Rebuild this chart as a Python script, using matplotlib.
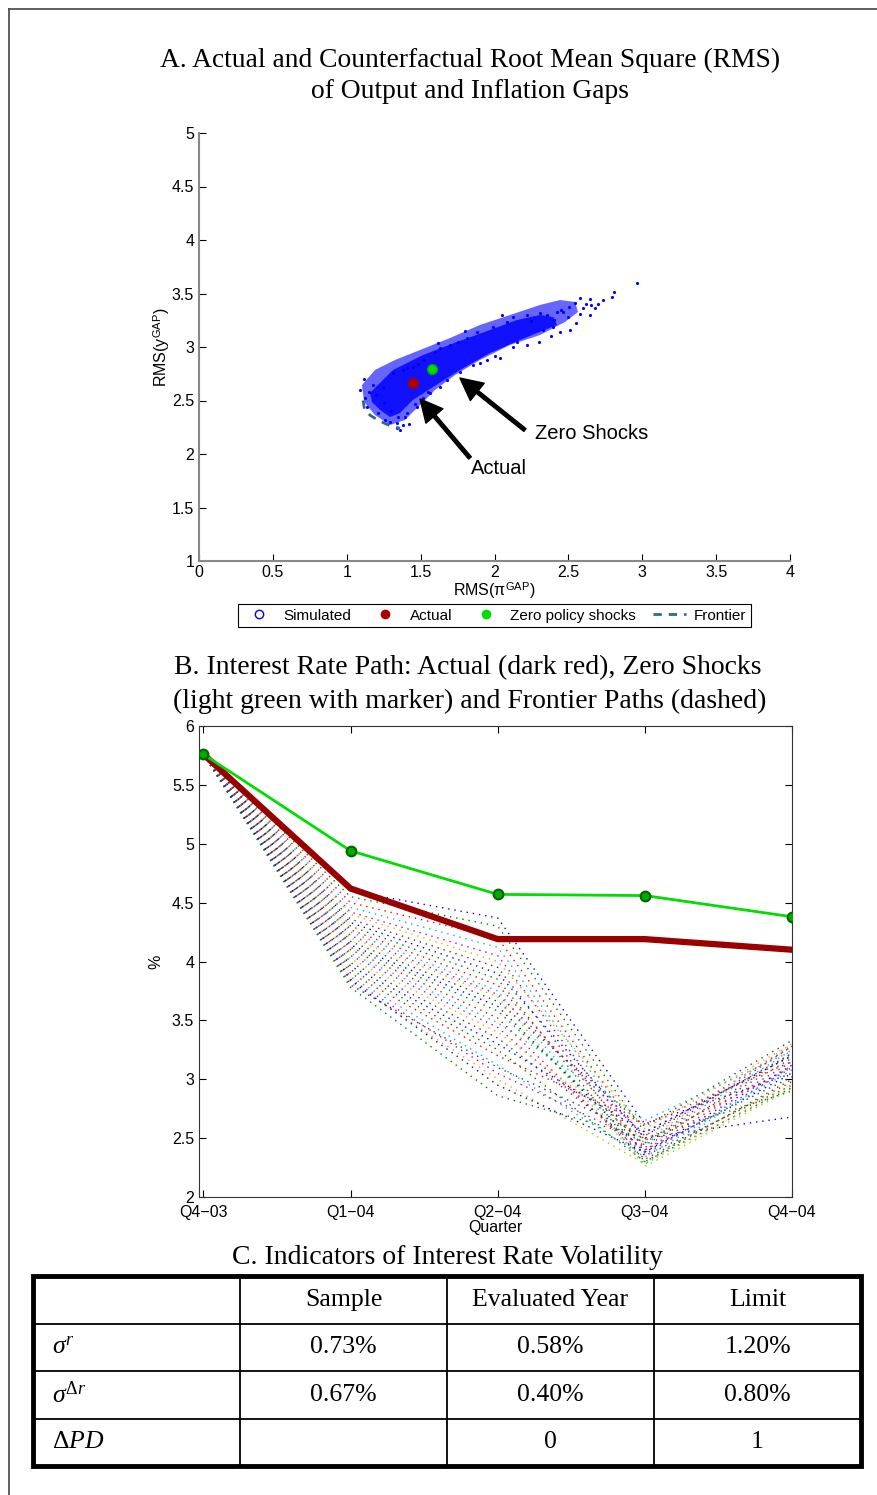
import matplotlib
matplotlib.use('Agg')
import matplotlib.pyplot as plt
from matplotlib.lines import Line2D
from matplotlib.patches import Rectangle
from matplotlib.ticker import FormatStrFormatter

plt.rcParams['font.family'] = ['Liberation Sans', 'DejaVu Sans']
plt.rcParams['mathtext.fontset'] = 'custom'
plt.rcParams['mathtext.rm'] = 'Liberation Serif'
plt.rcParams['mathtext.it'] = 'Liberation Serif:italic'
plt.rcParams['mathtext.sf'] = 'Liberation Sans'

# ---- panel A data ----
# outer (sparser) part of the simulated cloud
outer_x = [1.103, 1.191, 1.327, 1.496, 1.699, 1.902, 2.105, 2.308, 2.443, 2.545, 2.565,
           2.477, 2.308, 2.105, 1.902, 1.733, 1.597, 1.496, 1.394, 1.293, 1.191, 1.117]
outer_y = [2.645, 2.785, 2.879, 2.972, 3.084, 3.206, 3.299, 3.393, 3.439, 3.421, 3.327,
           3.234, 3.112, 3.019, 2.879, 2.738, 2.598, 2.458, 2.318, 2.271, 2.364, 2.486]
# dense core of the simulated cloud
core_x = [1.157, 1.313, 1.516, 1.746, 1.970, 2.152, 2.308, 2.396, 2.423, 2.220,
          1.970, 1.766, 1.584, 1.448, 1.360, 1.293, 1.225, 1.171]
core_y = [2.570, 2.785, 2.925, 3.047, 3.159, 3.252, 3.299, 3.280, 3.206, 3.093,
          2.944, 2.785, 2.626, 2.505, 2.383, 2.346, 2.411, 2.486]
# scattered simulated points
sim_x = [2.964, 2.809, 2.795, 2.734, 2.646, 2.653, 2.646, 2.545, 2.579, 2.504, 2.511, 2.443,
         2.464, 2.423, 1.124, 1.137, 1.211, 1.293, 1.340, 1.381, 1.394, 1.245, 1.313, 1.381,
         1.448, 1.178, 1.631, 1.699, 1.814, 1.882, 1.990, 2.085, 2.125, 2.220, 2.308, 2.355,
         2.396, 2.328, 2.220, 2.125, 2.037, 1.949, 1.855, 1.766, 1.678, 1.631, 1.563, 1.516,
         1.475, 1.408, 1.340, 1.20, 1.25, 1.30, 1.15, 1.52, 1.60, 1.75, 2.40, 2.55, 2.60,
         2.70, 2.45, 2.50, 2.30, 2.38, 1.90, 2.00, 1.46, 1.55, 1.35, 1.26, 1.41, 1.48, 2.15,
         2.25, 1.09, 1.12, 1.36, 1.42, 1.62, 1.80, 2.05, 2.62, 2.68, 2.58]
sim_y = [3.598, 3.514, 3.467, 3.439, 3.449, 3.393, 3.299, 3.411, 3.308, 3.374, 3.159, 3.140,
         3.327, 3.327, 2.523, 2.439, 2.383, 2.299, 2.243, 2.271, 2.346, 2.626, 2.757, 2.785,
         2.813, 2.645, 2.991, 3.019, 3.084, 3.140, 3.187, 3.234, 3.280, 3.299, 3.318, 3.299,
         3.187, 3.159, 3.019, 3.000, 2.897, 2.879, 2.832, 2.766, 2.692, 2.626, 2.570, 2.523,
         2.439, 2.383, 2.290, 2.55, 2.48, 2.40, 2.58, 2.88, 2.95, 3.05, 3.25, 3.22, 3.36,
         3.40, 3.35, 3.28, 3.05, 3.10, 2.85, 2.92, 2.47, 2.58, 2.35, 2.32, 2.80, 2.84, 3.05,
         3.24, 2.60, 2.70, 2.22, 2.28, 3.04, 3.15, 3.30, 3.40, 3.36, 3.46]
actual_x, actual_y = 1.45, 2.66
zero_x, zero_y = 1.58, 2.79
frontier_x = [1.11, 1.12, 1.16, 1.22, 1.30, 1.36]
frontier_y = [2.50, 2.42, 2.36, 2.31, 2.26, 2.24]

# ---- panel B data ----
quarters = ['Q4\u221203', 'Q1\u221204', 'Q2\u221204', 'Q3\u221204', 'Q4\u221204']
actual_path = [5.76, 4.62, 4.19, 4.19, 4.10]
zero_path = [5.76, 4.94, 4.57, 4.56, 4.38]
frontier_paths = [
    [5.76, 4.60, 4.37, 2.62, 3.05],
    [5.76, 4.55, 4.30, 2.55, 3.20],
    [5.76, 4.50, 4.20, 2.48, 3.10],
    [5.76, 4.46, 4.12, 2.45, 3.25],
    [5.76, 4.42, 4.05, 2.40, 3.15],
    [5.76, 4.40, 4.00, 2.58, 3.30],
    [5.76, 4.36, 3.95, 2.35, 2.95],
    [5.76, 4.33, 3.90, 2.50, 2.68],
    [5.76, 4.30, 3.85, 2.30, 3.00],
    [5.76, 4.27, 3.80, 2.42, 3.22],
    [5.76, 4.25, 3.75, 2.28, 3.12],
    [5.76, 4.22, 3.72, 2.52, 3.28],
    [5.76, 4.20, 3.70, 2.26, 2.92],
    [5.76, 4.17, 3.66, 2.60, 3.33],
    [5.76, 4.14, 3.62, 2.38, 3.05],
    [5.76, 4.12, 3.58, 2.44, 3.18],
    [5.76, 4.10, 3.52, 2.32, 2.98],
    [5.76, 4.07, 3.48, 2.65, 3.24],
    [5.76, 4.05, 3.44, 2.36, 3.10],
    [5.76, 4.02, 3.40, 2.48, 3.30],
    [5.76, 3.99, 3.35, 2.40, 3.02],
    [5.76, 3.96, 3.30, 2.55, 3.20],
    [5.76, 3.93, 3.25, 2.30, 2.93],
    [5.76, 3.90, 3.20, 2.62, 3.15],
    [5.76, 3.87, 3.12, 2.34, 3.08],
    [5.76, 3.85, 3.05, 2.46, 3.28],
    [5.76, 3.82, 3.00, 2.28, 2.95],
    [5.76, 3.80, 3.10, 2.52, 3.22],
    [5.76, 3.84, 2.95, 2.38, 3.12],
    [5.76, 3.78, 2.86, 2.50, 2.90],
]
matlab_colors = [(0, 0, 1), (0, 0.5, 0), (1, 0, 0), (0, 0.75, 0.75),
                 (0.75, 0, 0.75), (0.75, 0.75, 0), (0.25, 0.25, 0.25)]

# ---- table data ----
col_labels = ['', 'Sample', 'Evaluated Year', 'Limit']
row_labels = [r'$\sigma^r$', r'$\sigma^{\Delta r}$', r'$\Delta PD$']
cells = [['0.73%', '0.58%', '1.20%'],
         ['0.67%', '0.40%', '0.80%'],
         ['', '0', '1']]

W, H = 878, 1495
fig = plt.figure(figsize=(W / 100, H / 100), dpi=100)


def fx(px):
    return px / W


def fy(py):
    return 1 - py / H


# page frame
fig.add_artist(Line2D([fx(9), 1], [fy(9), fy(9)], color='#444444', lw=1.2))
fig.add_artist(Line2D([fx(9), fx(9)], [fy(9), 0], color='#444444', lw=1.2))

serif = ['Liberation Serif', 'DejaVu Serif']
fig.text(fx(470), fy(60), 'A. Actual and Counterfactual Root Mean Square (RMS)',
         ha='center', va='center', fontsize=19.8, family=serif)
fig.text(fx(470), fy(92), 'of Output and Inflation Gaps',
         ha='center', va='center', fontsize=19.8, family=serif)

# ---------- panel A ----------
axA = fig.add_axes([fx(199), fy(561), fx(790) - fx(199), fy(133) - fy(561)])
axA.fill(outer_x, outer_y, color=(0.2, 0.2, 1.0), alpha=0.75, lw=0, zorder=2)
axA.fill(core_x, core_y, color=(0.05, 0.05, 1.0), alpha=0.95, lw=0, zorder=2)
axA.plot(sim_x, sim_y, '.', color='blue', ms=2.5, zorder=2)
axA.plot(frontier_x, frontier_y, '--', color='#2e6a8c', lw=2, dashes=(3, 2.5), zorder=3)
axA.plot(actual_x, actual_y, 'o', color='#aa0000', ms=7, zorder=4)
axA.plot(zero_x, zero_y, 'o', color='#00dd00', mec='#00aa00', ms=7, zorder=4)

arrow = dict(facecolor='black', edgecolor='black', width=2.5, headwidth=16, headlength=16)
axA.annotate('', xy=(1.766, 2.710), xytext=(2.206, 2.224), arrowprops=arrow)
axA.annotate('', xy=(1.496, 2.514), xytext=(1.834, 1.963), arrowprops=arrow)
axA.text(2.274, 2.196, 'Zero Shocks', fontsize=14.5, va='center', ha='left')
axA.text(1.841, 1.869, 'Actual', fontsize=14.5, va='center', ha='left')

axA.set_xlim(0, 4)
axA.set_ylim(1, 5)
axA.set_xticks([i * 0.5 for i in range(9)])
axA.set_yticks([1 + i * 0.5 for i in range(9)])
axA.xaxis.set_major_formatter(FormatStrFormatter('%g'))
axA.yaxis.set_major_formatter(FormatStrFormatter('%g'))
axA.tick_params(direction='in', length=5, labelsize=11.5, width=0.8)
axA.tick_params(axis='x', pad=3)
axA.spines['top'].set_visible(False)
axA.spines['right'].set_visible(False)
axA.spines['left'].set_color('#888888')
axA.spines['bottom'].set_color('#888888')
axA.spines['left'].set_linewidth(1.5)
axA.spines['bottom'].set_linewidth(1.5)
axA.set_xlabel(r'RMS($\mathsf{\pi}^{\mathsf{GAP}}$)', fontsize=11.5, labelpad=0)
axA.set_ylabel(r'RMS(y$^{\mathsf{GAP}}$)', fontsize=11.5, labelpad=0)

handles = [Line2D([], [], ls='none', marker='o', mfc='white', mec='blue', ms=6),
           Line2D([], [], ls='none', marker='o', color='#aa0000', ms=6),
           Line2D([], [], ls='none', marker='o', color='#00dd00', ms=6),
           Line2D([], [], ls='--', color='#2e6a8c', lw=2, dashes=(3, 2.5))]
leg = axA.legend(handles, ['Simulated', 'Actual', 'Zero policy shocks', 'Frontier'],
                 loc='center', bbox_to_anchor=(0.5, -0.128), ncol=4, fontsize=11,
                 frameon=True, fancybox=False, edgecolor='black', framealpha=1,
                 handlelength=2.2, handletextpad=0.5, columnspacing=1.1, borderpad=0.3)
leg.get_frame().set_linewidth(0.8)

# ---------- panel B ----------
fig.text(fx(468), fy(668), 'B. Interest Rate Path: Actual (dark red), Zero Shocks',
         ha='center', va='center', fontsize=20, family=serif)
fig.text(fx(470), fy(701), '(light green with marker) and Frontier Paths (dashed)',
         ha='center', va='center', fontsize=20, family=serif)

axB = fig.add_axes([fx(199), fy(1197), fx(792) - fx(199), fy(726) - fy(1197)])
xq = list(range(1, len(quarters) + 1))
for i, path in enumerate(frontier_paths):
    axB.plot(xq, path, color=matlab_colors[i % 7], lw=1.0, dashes=(1, 3.5), zorder=2)
axB.plot(xq, actual_path, color='#990000', lw=4.5, zorder=3)
axB.plot(xq, zero_path, color='#00dd00', lw=2, marker='o', ms=7,
         mfc='#00aa00', mec='#006600', mew=1.5, zorder=4)
axB.set_xlim(0.97, 5)
axB.set_ylim(2, 6)
axB.set_xticks(xq)
axB.set_xticklabels(quarters)
axB.set_yticks([2 + i * 0.5 for i in range(9)])
axB.yaxis.set_major_formatter(FormatStrFormatter('%g'))
axB.tick_params(direction='in', length=5, labelsize=11.5, top=True, right=True, width=0.8)
axB.tick_params(axis='x', pad=6)
for s in axB.spines.values():
    s.set_color('#333333')
axB.set_xlabel('Quarter', fontsize=11.5, labelpad=0)
axB.set_ylabel('%', fontsize=11.5, labelpad=6)

# ---------- panel C (table) ----------
fig.text(fx(447), fy(1258), 'C. Indicators of Interest Rate Volatility',
         ha='center', va='center', fontsize=20, family=serif)
axC = fig.add_axes([fx(33), fy(1466), fx(861) - fx(33), fy(1276) - fy(1466)])
axC.set_xlim(0, 4)
axC.set_ylim(0, 4)
axC.axis('off')
axC.vlines([1, 2, 3], 0, 4, color='black', lw=1.3)
axC.hlines([1, 2, 3], 0, 4, color='black', lw=1.3)
axC.add_patch(Rectangle((0, 0), 4, 4, fill=False, lw=3.5, ec='black', clip_on=False))
for j, lab in enumerate(col_labels):
    axC.text(j + 0.5, 3.5, lab, ha='center', va='center', fontsize=18.5, family=serif)
for i, lab in enumerate(row_labels):
    y = 2.5 - i
    axC.text(0.09, y, lab, ha='left', va='center', fontsize=18.5, family=serif)
    for j, val in enumerate(cells[i]):
        axC.text(j + 1.5, y, val, ha='center', va='center', fontsize=18.5, family=serif)

fig.savefig('out.png', dpi=100)
